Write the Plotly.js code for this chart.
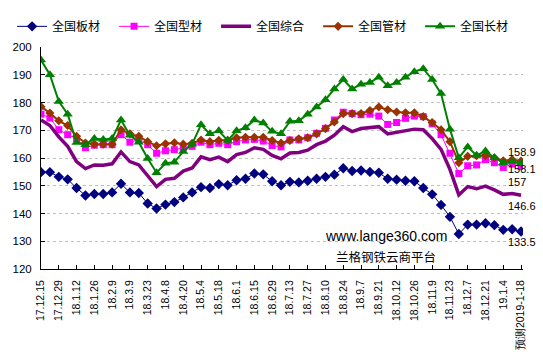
<!DOCTYPE html>
<html>
<head>
<meta charset="utf-8">
<script src="https://cdn.plot.ly/plotly-3.0.1.min.js"></script>
<style>html,body{margin:0;padding:0;background:#fff;}#chart{width:543px;height:361px;}</style>
</head>
<body>
<div id="chart"></div>
<script>
// weekly categories (every other one is labelled on the axis)
const weeks = ['17.12.15','17.12.22','17.12.29','18.1.5','18.1.12','18.1.19','18.1.26','18.2.2','18.2.9','18.3.2',
  '18.3.9','18.3.16','18.3.23','18.3.30','18.4.8','18.4.13','18.4.20','18.4.27','18.5.4','18.5.11',
  '18.5.18','18.5.25','18.6.1','18.6.8','18.6.15','18.6.22','18.6.29','18.7.6','18.7.13','18.7.20',
  '18.7.27','18.8.3','18.8.10','18.8.17','18.8.24','18.8.31','18.9.7','18.9.14','18.9.21','18.9.30',
  '18.10.12','18.10.19','18.10.26','18.11.2','18.11.9','18.11.16','18.11.23','18.11.30','18.12.7','18.12.14',
  '18.12.21','18.12.28','19.1.4','19.1.11','预测2019-1-18'];

const banCai = [154.9,154.9,153.2,152.3,149.2,146.5,147.0,147.0,147.6,150.7,
  147.6,147.4,143.6,141.8,143.2,144.1,145.8,147.6,149.5,149.2,
  150.6,150.2,152.0,152.5,154.4,154.1,151.6,150.2,151.4,151.2,
  151.8,152.5,153.2,154.0,156.3,155.3,155.5,155.0,154.7,152.5,
  152.2,151.8,151.6,149.2,146.9,143.1,138.8,132.6,136.0,136.0,
  136.5,135.8,134.1,134.3,133.5];
const xingCai = [175.8,174.4,170.2,168.4,167.0,163.7,164.6,164.8,164.8,168.4,
  165.7,166.5,164.8,161.7,162.6,163.0,163.7,164.2,165.7,164.8,
  165.3,164.8,165.9,166.5,166.7,166.1,164.5,164.0,166.5,166.5,
  167.3,168.9,170.7,173.7,176.5,176.0,175.6,175.8,175.1,172.1,
  172.8,174.3,175.1,174.9,172.3,168.4,161.7,154.4,157.2,157.5,
  159.4,158.3,156.6,157.8,157];
const zongHe = [173.7,171.7,167.6,164.2,158.7,156.2,157.5,157.4,157.9,162.2,
  158.7,157.5,153.6,149.7,152.3,152.7,155.3,156.4,160.4,159.4,
  160.3,158.7,161.2,162.0,163.7,163.1,160.9,159.7,161.8,162.0,
  162.8,164.8,166.1,168.2,171.3,169.5,170.6,170.9,171.3,168.7,
  169.3,169.8,170.4,170.2,167.0,163.1,155.9,146.7,149.7,148.9,
  149.9,148.5,146.9,147.2,146.6];
const guanCai = [178.5,176.2,173.4,171.7,167.8,165.4,165.0,165.0,165.0,170.2,
  168.7,167.8,165.9,164.4,165.1,165.5,165.0,165.3,166.5,165.9,
  166.4,166.4,167.3,167.5,167.5,167.5,166.3,165.4,166.3,166.9,
  167.3,168.7,170.6,173.0,176.0,176.0,176.0,177.1,178.4,177.4,
  176.6,176.3,176.3,174.9,172.8,170.2,165.9,158.3,160.6,160.8,
  160.9,160.1,159.0,159.4,158.9];
const changCai = [195.3,190.0,180.4,175.8,165.6,164.8,167.0,166.7,167.0,173.7,
  168.2,165.7,159.8,154.7,158.1,158.5,162.3,165.0,172.0,168.7,
  169.8,166.3,169.8,170.9,173.7,172.6,169.6,168.7,173.2,173.4,
  175.8,178.4,181.0,184.9,188.3,184.9,186.6,187.2,189.1,186.0,
  187.2,189.1,191.1,192.2,188.3,183.2,170.4,160.1,164.0,160.9,
  162.5,160.1,158.3,158.7,158.1];

const names = ['全国板材','全国型材','全国综合','全国管材','全国长材'];
const tickWeeks = weeks.filter((w, i) => i % 2 === 0);

const numFont = 'Liberation Sans, Arial, sans-serif';
const cjkFont = 'Noto Sans CJK SC, sans-serif';

const traces = [
  {y: banCai, name: names[0], line: {color: '#000080', width: 1}, mode: 'lines+markers',
   marker: {symbol: 'diamond', size: 8, color: '#000080'}},
  {y: xingCai, name: names[1], line: {color: '#FF00FF', width: 1}, mode: 'lines+markers',
   marker: {symbol: 'square', size: 7, color: '#FF00FF'}},
  {y: zongHe, name: names[2], line: {color: '#800080', width: 3.5}, mode: 'lines'},
  {y: guanCai, name: names[3], line: {color: '#993300', width: 2}, mode: 'lines+markers',
   marker: {symbol: 'diamond', size: 7, color: '#993300'}},
  {y: changCai, name: names[4], line: {color: '#008000', width: 2}, mode: 'lines+markers',
   marker: {symbol: 'triangle-up', size: 9, color: '#008000'}}
].map(t => Object.assign({x: weeks, type: 'scatter'}, t));

const endShift = [-10.5, -15.5, -10.5, 9, -6];
const series = [banCai, xingCai, zongHe, guanCai, changCai];
const annotations = series.map((s, k) => ({
  x: weeks[weeks.length - 1], y: s[s.length - 1], xref: 'x', yref: 'y',
  text: String(s[s.length - 1]), showarrow: false, xanchor: 'left', yanchor: 'middle',
  xshift: -14, yshift: endShift[k], borderpad: 0, font: {family: numFont, size: 11, color: '#000'}
}));
annotations.push({xref: 'paper', yref: 'paper', x: 0.715, y: 0.147, text: 'www.lange360.com',
  showarrow: false, xanchor: 'center', yanchor: 'middle', font: {family: numFont, size: 14, color: '#000'}});
annotations.push({xref: 'paper', yref: 'paper', x: 0.715, y: 0.055, text: '兰格钢铁云商平台',
  showarrow: false, xanchor: 'center', yanchor: 'middle', font: {family: cjkFont, size: 12.5, color: '#000'}});

const layout = {
  width: 543, height: 361,
  margin: {l: 35, r: 20, t: 32, b: 92, pad: 0},
  paper_bgcolor: '#fff', plot_bgcolor: '#fff',
  showlegend: true,
  legend: {orientation: 'h', x: -0.06, xanchor: 'left', y: 1.093, yanchor: 'middle',
    font: {family: cjkFont, size: 12, color: '#000'}, entrywidth: 57, entrywidthmode: 'pixels',
    itemwidth: 30, tracegroupgap: 0, bgcolor: 'rgba(0,0,0,0)'},
  xaxis: {type: 'category', range: [0, 54.22], tickmode: 'array', tickvals: tickWeeks,
    tickangle: -90, showline: true, linecolor: '#000', linewidth: 1, ticks: 'inside', ticklen: 4,
    tickcolor: '#000', showgrid: false, zeroline: false, ticklabelstandoff: 6,
    tickfont: {family: numFont, size: 10.5, color: '#000'}},
  yaxis: {range: [120, 200], dtick: 10, tick0: 120, showline: true, linecolor: '#000', linewidth: 1,
    ticks: 'inside', ticklen: 4, tickcolor: '#000', showgrid: true, gridcolor: '#c0c0c0', griddash: 'dot',
    gridwidth: 1, zeroline: false, ticklabelstandoff: 6,
    tickfont: {family: numFont, size: 11.5, color: '#000'}},
  annotations: annotations
};

Plotly.newPlot('chart', traces, layout, {displayModeBar: false, staticPlot: true});
</script>
</body>
</html>
